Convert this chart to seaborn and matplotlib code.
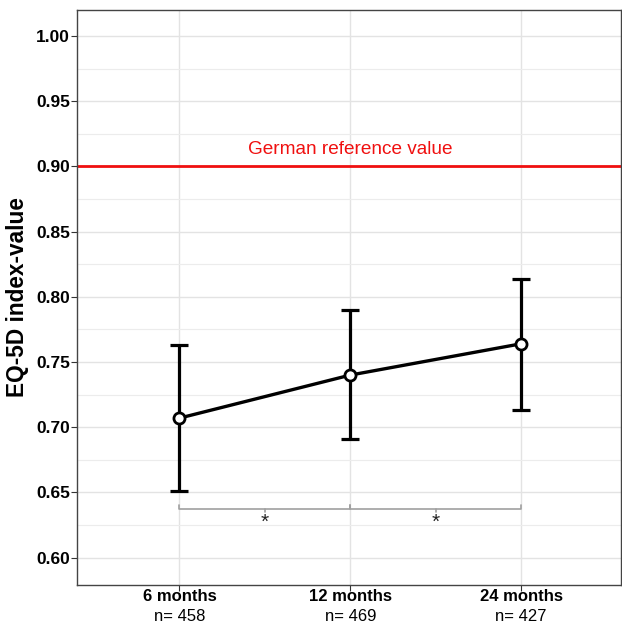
import matplotlib
matplotlib.use("Agg")
import matplotlib.pyplot as plt
import seaborn as sns
import pandas as pd
import numpy as np
from matplotlib.ticker import MultipleLocator
from matplotlib.transforms import blended_transform_factory

timepoints = ["6 months", "12 months", "24 months"]
n_labels = ["n= 458", "n= 469", "n= 427"]
means = [0.707, 0.740, 0.764]
upper = [0.763, 0.790, 0.814]
lower = [0.651, 0.691, 0.713]
reference_value = 0.90
reference_label = "German reference value"
sig_pairs = [(0, 1, "*"), (1, 2, "*")]
y_ticks = [0.60, 0.65, 0.70, 0.75, 0.80, 0.85, 0.90, 0.95, 1.00]

sns.set_theme(style="whitegrid")
plt.rcParams["font.family"] = ["Liberation Sans", "DejaVu Sans"]

df = pd.DataFrame({"x": np.arange(len(timepoints)), "mean": means,
                   "lower": lower, "upper": upper})

fig = plt.figure(figsize=(6.22, 6.25), dpi=100)
ax = fig.add_axes([0.1238, 0.064, 0.8746, 0.92])

ax.set_xlim(-0.6, 2.585)
ax.set_ylim(0.579, 1.02)

ax.yaxis.set_major_locator(MultipleLocator(0.05))
ax.yaxis.set_minor_locator(MultipleLocator(0.025))
ax.set_yticks(y_ticks)
ax.grid(which="major", color="#e3e3e3", linewidth=1.0)
ax.grid(which="minor", axis="y", color="#ececec", linewidth=0.8)
ax.set_axisbelow(True)

# reference line
ax.axhline(reference_value, color="#f01010", linewidth=2, zorder=2)
ax.text(1, reference_value + 0.013, reference_label, color="#f01010",
        ha="center", va="center", fontsize=13.7)

# error bars
ax.errorbar(df["x"], df["mean"],
            yerr=[df["mean"] - df["lower"], df["upper"] - df["mean"]],
            fmt="none", ecolor="black", elinewidth=2.3, capsize=6.5,
            capthick=2.3, zorder=3)

sns.lineplot(data=df, x="x", y="mean", ax=ax, color="black", linewidth=2.4,
             marker="o", markersize=8, markerfacecolor="white",
             markeredgecolor="black", markeredgewidth=2, zorder=4)

# significance brackets
bracket_y = 0.6372
for a, b, s in sig_pairs:
    ax.plot([a, a, b, b], [bracket_y + 0.003, bracket_y, bracket_y, bracket_y + 0.003],
            color="#a0a0a0", linewidth=1.2, zorder=2)
    mid = (a + b) / 2
    ax.plot([mid, mid], [bracket_y, bracket_y - 0.002], color="#a0a0a0",
            linewidth=1.2, zorder=2)
    ax.text(mid, bracket_y - 0.0105, s, ha="center", va="center",
            fontsize=15, color="#222222")

ax.set_xticks(df["x"])
ax.set_xticklabels(timepoints, fontweight="bold", fontsize=12)
trans = blended_transform_factory(ax.transData, ax.transAxes)
for i, lab in enumerate(n_labels):
    ax.text(i, -0.0545, lab, transform=trans, ha="center", va="center",
            fontsize=12, color="black")

ax.set_yticklabels([f"{v:.2f}" for v in y_ticks], fontweight="bold", fontsize=12.5)
ax.set_xlabel("")
ax.set_ylabel("EQ-5D index-value", fontweight="bold", fontsize=16.3,
              labelpad=5, color="black")

ax.tick_params(axis="both", which="major", length=4, width=0.8,
               left=True, bottom=True, color="#333333", labelcolor="black")
ax.tick_params(axis="y", which="major", pad=1)
ax.tick_params(axis="x", which="major", pad=-1)
ax.tick_params(axis="y", which="minor", length=0, left=False)
for sp in ax.spines.values():
    sp.set_color("#444444")
    sp.set_linewidth(1.0)

fig.savefig("out.png", dpi=100)
